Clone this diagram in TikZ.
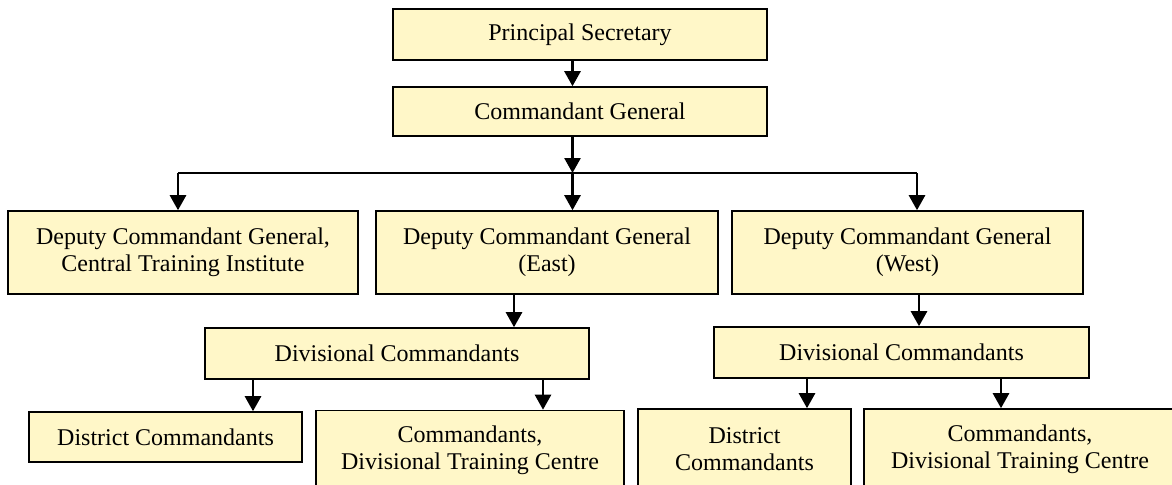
\documentclass[tikz,border=0pt]{standalone}
\usepackage{fontspec}
\setmainfont{Liberation Serif}
\usetikzlibrary{arrows.meta}
\definecolor{boxfill}{RGB}{255,247,200}

\begin{document}
\begin{tikzpicture}[x=0.5pt,y=-0.5pt,font=\fontsize{12pt}{13.5pt}\selectfont,
    box/.style={rectangle,draw=black,line width=0.8pt,fill=boxfill,inner sep=0pt,align=center},
    arr/.style={line width=1.3pt,-{Triangle[length=7.5pt,width=8pt]}}]
    \useasboundingbox (0,0) rectangle (1172,484);
    \clip (0,0) rectangle (1172,484);
    % top of the chart
    \node[box, minimum width=187pt, minimum height=25.5pt] (ps) at (580,34.5) {Principal Secretary};
    \node[box, minimum width=187pt, minimum height=24.5pt] (cg) at (580,111.5) {Commandant General};
    % deputies
    \node[box, minimum width=175pt, minimum height=41.5pt] (cti) at (183,252.5) {Deputy Commandant General,\\ Central Training Institute};
    \node[box, minimum width=171pt, minimum height=41.5pt] (east) at (547,252.5) {Deputy Commandant General\\ (East)};
    \node[box, minimum width=175.5pt, minimum height=41.5pt] (west) at (907.5,252.5) {Deputy Commandant General\\ (West)};
    % divisions
    \node[box, minimum width=192pt, minimum height=25.5pt] (dive) at (397,353.5) {Divisional Commandants};
    \node[box, minimum width=187.5pt, minimum height=25.5pt] (divw) at (901.5,352.5) {Divisional Commandants};
    \node[box, minimum width=136.5pt, minimum height=25pt] (diste) at (165.5,437) {District Commandants};
    \node[box, minimum width=154pt, minimum height=40pt] (dtce) at (470,450.5) {Commandants,\\ Divisional Training Centre};
    \node[box, minimum width=106.5pt, minimum height=40pt] (distw) at (744.5,449) {District\\ Commandants};
    \node[box, minimum width=156pt, minimum height=40pt] (dtcw) at (1020,449) {Commandants,\\ Divisional Training Centre};
    % columns of the connectors
    \coordinate (bar) at (572.5,173);
    \coordinate (cL) at (178,0);
    \coordinate (cR) at (917,0);
    \coordinate (cE) at (514,0);
    \coordinate (cW) at (919,0);
    \coordinate (cE1) at (253,0);
    \coordinate (cE2) at (543,0);
    \coordinate (cW1) at (807,0);
    \coordinate (cW2) at (1001,0);
    \draw[line width=1.3pt] (bar -| cL) -- (bar -| cR);
    \path[arr]%
      (ps.south -| bar) edge (cg.north -| bar)
      (cg.south -| bar) edge (bar)
      (bar -| cL) edge (cti.north -| cL)
      (bar) edge (east.north -| bar)
      (bar -| cR) edge (west.north -| cR)
      (east.south -| cE) edge (dive.north -| cE)
      (west.south -| cW) edge (divw.north -| cW)
      (dive.south -| cE1) edge (diste.north -| cE1)
      (dive.south -| cE2) edge (dtce.north -| cE2)
      (divw.south -| cW1) edge (distw.north -| cW1)
      (divw.south -| cW2) edge (dtcw.north -| cW2);
\end{tikzpicture}
\end{document}
